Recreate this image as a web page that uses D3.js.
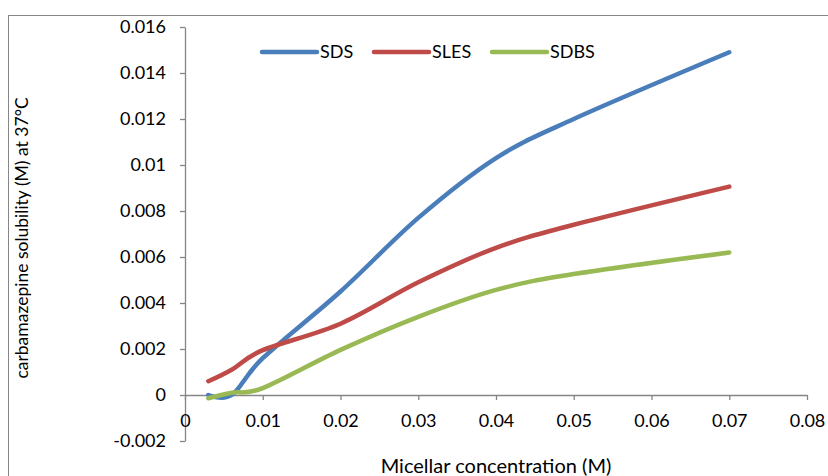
<!DOCTYPE html>
<html><head><meta charset="utf-8">
<script src="https://cdn.jsdelivr.net/npm/d3@7/dist/d3.min.js"></script>
<style>html,body{margin:0;padding:0;background:#fff;}svg{display:block;}</style>
</head><body>
<script>
const concentrations = [0.003, 0.006, 0.01, 0.02, 0.03, 0.04, 0.05, 0.07];
const sds  = [0.0, 0.0, 0.0016, 0.0045, 0.0077, 0.0103, 0.0120, 0.0149];
const sles = [0.0006, 0.0011, 0.00195, 0.0031, 0.0049, 0.0064, 0.0074, 0.00906];
const sdbs = [-0.00014, 0.0001, 0.0003, 0.00196, 0.0034, 0.00457, 0.00526, 0.0062];
const seriesNames = ["SDS", "SLES", "SDBS"];
const seriesColors = ["#4a7ebb", "#be4b48", "#98b954"];
const xTicks = [0, 0.01, 0.02, 0.03, 0.04, 0.05, 0.06, 0.07, 0.08];
const yTicks = [-0.002, 0, 0.002, 0.004, 0.006, 0.008, 0.01, 0.012, 0.014, 0.016];
const xTitle = "Micellar concentration (M)";
const yTitle = "carbamazepine solubility (M) at 37°C";

const W = 828, H = 476;
const font = "Lato, 'Open Sans', sans-serif";
const svg = d3.select("body").append("svg").attr("width", W).attr("height", H);

svg.append("rect").attr("x", 8.5).attr("y", 15.5).attr("width", W + 10).attr("height", H + 10)
  .attr("fill", "none").attr("stroke", "#868686").attr("stroke-width", 1);

const x = d3.scaleLinear().domain([0, 0.08]).range([185, 807]);
const y = d3.scaleLinear().domain([-0.002, 0.016]).range([441, 27]);

const fmt = d => d === 0 ? "0" : String(+d.toFixed(3));

const yAxis = svg.append("g").attr("transform", `translate(${x(0)},0)`)
  .call(d3.axisLeft(y).tickValues(yTicks).tickSize(5).tickSizeOuter(0).tickPadding(14).tickFormat(fmt));
const xAxis = svg.append("g").attr("transform", `translate(0,${y(0)})`)
  .call(d3.axisBottom(x).tickValues(xTicks).tickSize(5).tickSizeOuter(0).tickPadding(14).tickFormat(fmt));
[yAxis, xAxis].forEach(g => {
  g.select(".domain").attr("stroke", "#868686").attr("stroke-width", 1.3);
  g.selectAll(".tick line").attr("stroke", "#868686").attr("stroke-width", 1.3);
  g.selectAll("text").attr("font-family", font).attr("font-size", 18).attr("fill", "#000");
});

svg.append("text").attr("x", 496).attr("y", 473).attr("text-anchor", "middle")
  .attr("font-family", font).attr("font-size", 20).text(xTitle);
svg.append("text").attr("transform", "translate(28,238) rotate(-90)").attr("text-anchor", "middle")
  .attr("font-family", font).attr("font-size", 17.5).text(yTitle);

const line = d3.line().x(d => x(d[0])).y(d => y(d[1])).curve(d3.curveCardinal.tension(0));
[sds, sles, sdbs].forEach((vals, i) => {
  const pts = concentrations.map((c, j) => [c, vals[j]]);
  svg.append("path").datum(pts).attr("d", line).attr("fill", "none")
    .attr("stroke", seriesColors[i]).attr("stroke-width", 4.5).attr("stroke-linecap", "round");
});

const legX = [262, 374, 492];
seriesNames.forEach((n, i) => {
  svg.append("line").attr("x1", legX[i]).attr("x2", legX[i] + 55).attr("y1", 52).attr("y2", 52)
    .attr("stroke", seriesColors[i]).attr("stroke-width", 4.5).attr("stroke-linecap", "round");
  svg.append("text").attr("x", legX[i] + 58).attr("y", 58).attr("font-family", font)
    .attr("font-size", 18).text(n);
});
</script>
</body></html>
